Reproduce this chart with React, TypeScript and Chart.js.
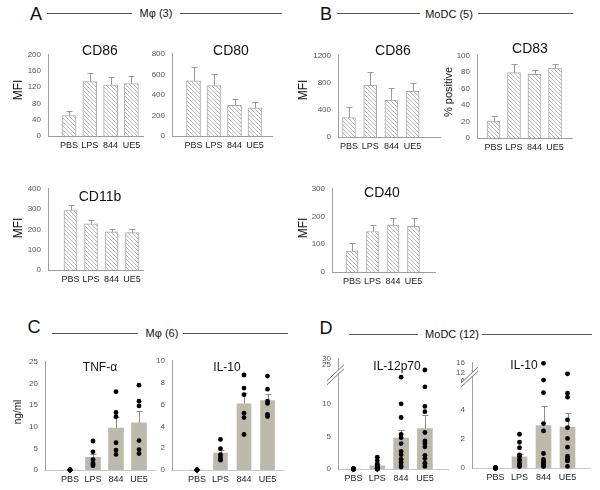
import React, { useEffect, useRef } from 'react';
import { Chart, registerables, LinearScale } from 'chart.js';

Chart.register(...registerables);

const FONT = '"Liberation Sans", Arial, sans-serif';

// ---------- data ----------
const CATS = ['PBS', 'LPS', '844', 'UE5'];

const A_CD86 = [50, 134, 126, 129];
const A_CD86_ERR = [12, 21, 19, 18];
const A_CD80 = [536, 490, 298, 273];
const A_CD80_ERR = [140, 115, 62, 62];
const B_CD86 = [286, 764, 544, 675];
const B_CD86_ERR = [150, 200, 173, 127];
const B_CD83 = [20.5, 79.5, 77.5, 85];
const B_CD83_ERR = [6.5, 10.5, 5, 5];
const A_CD11B = [293, 228, 188, 184];
const A_CD11B_ERR = [25, 18, 16, 20];
const B_CD40 = [75, 146, 169, 165];
const B_CD40_ERR = [29, 24, 26, 31];

const C_TNF = [0, 2.9, 9.7, 10.9];
const C_TNF_ERR = [0, 0.8, 2.5, 2.8];
const C_TNF_DOTS = [
  [0, 0, 0, 0, 0, 0],
  [6.7, 4.2, 2.4, 1.6, 1.3, 1.0],
  [18.1, 13.3, 12.3, 6.3, 4.6, 3.6],
  [19.6, 15.9, 14.8, 6.8, 4.7, 3.8],
];
const C_IL10 = [0, 1.54, 6.07, 6.36];
const C_IL10_ERR = [0, 0.3, 0.97, 0.6];
const C_IL10_DOTS = [
  [0, 0, 0, 0, 0, 0],
  [2.8, 1.95, 1.4, 1.2, 1.0, 0.9],
  [8.7, 7.5, 6.9, 5.2, 4.8, 3.25],
  [8.6, 7.4, 6.3, 6.1, 5.1, 4.9],
];
const D_IL12 = [0, 0.5, 4.73, 6.2];
const D_IL12_ERR = [0, 0.2, 1.2, 2.1];
const D_IL12_DOTS = [
  [0, 0, 0, 0, 0, 0, 0, 0, 0, 0, 0, 0],
  [1.8, 1.3, 0.8, 0.5, 0.4, 0.2, 0.1, 0, 0, 0, 0, 0],
  [17.5, 10.0, 7.9, 5.3, 4.8, 3.9, 2.7, 2.2, 1.5, 1.0, 0.5, 0.3],
  [22, 12.6, 9.6, 8.8, 5.6, 4.3, 3.9, 3.4, 2.1, 1.6, 0.9, 0.4],
];
const D_IL10 = [0, 0.78, 2.93, 2.82];
const D_IL10_ERR = [0, 0.22, 1.34, 1.0];
const D_IL10_DOTS = [
  [0, 0, 0, 0, 0, 0, 0, 0, 0, 0, 0, 0],
  [2.33, 1.78, 1.4, 0.9, 0.82, 0.6, 0.5, 0.3, 0.3, 0.2, 0.15, 0.1],
  [15.8, 6.8, 5.2, 3.07, 2.56, 1.0, 0.6, 0.45, 0.35, 0.25, 0.15, 0.1],
  [11.5, 5.17, 4.89, 3.33, 2.78, 2.04, 1.44, 0.82, 0.67, 0.5, 0.5, 0.11],
];

const IL12_TICKS = [0, 5, 10, 25, 30];
const IL12_BREAK_VALUES = [0, 13, 25, 30];
const IL12_BREAK_FRACS = [0, 0.769, 0.9414, 1];
const DIL10_TICKS = [0, 2, 4, 6, 12, 16];
const DIL10_BREAK_VALUES = [0, 6, 12, 16];
const DIL10_BREAK_FRACS = [0, 0.8257, 0.9018, 1];

// ---------- broken axis scales ----------
function interp(v: number, xs: number[], ys: number[]) {
  const n = xs.length;
  let i = 0;
  if (v <= xs[0]) i = 0;
  else if (v >= xs[n - 1]) i = n - 2;
  else {
    while (i < n - 2 && v > xs[i + 1]) i++;
  }
  const t = (v - xs[i]) / (xs[i + 1] - xs[i]);
  return ys[i] + t * (ys[i + 1] - ys[i]);
}

function makeBrokenScale(scaleId: string, vals: number[], fracs: number[]) {
  class Broken extends (LinearScale as any) {
    static id = scaleId;
    static defaults = {};
    getPixelForValue(value: number) {
      return (this as any).getPixelForDecimal(interp(value, vals, fracs));
    }
    getValueForPixel(pixel: number) {
      return interp((this as any).getDecimalForPixel(pixel), fracs, vals);
    }
  }
  return Broken;
}
Chart.register(makeBrokenScale('brokenIL12', IL12_BREAK_VALUES, IL12_BREAK_FRACS) as any);
Chart.register(makeBrokenScale('brokenDIL10', DIL10_BREAK_VALUES, DIL10_BREAK_FRACS) as any);

// ---------- panel layout ----------
type Spec = {
  L: number; R: number; T: number; B: number; c1: number; sp: number; bw: number;
  values: number[]; errs: number[]; dots?: number[][];
  max: number; step?: number; ticks?: number[]; scaleType?: string; brk?: [number, number];
  hatched: boolean;
};

const PANELS: Spec[] = [
  { L: 48, R: 143, T: 51, B: 136, c1: 69, sp: 20.8, bw: 14, values: A_CD86, errs: A_CD86_ERR, max: 200, step: 40, hatched: true },
  { L: 172, R: 272, T: 50, B: 136, c1: 193.5, sp: 20.5, bw: 14, values: A_CD80, errs: A_CD80_ERR, max: 800, step: 200, hatched: true },
  { L: 338, R: 440, T: 52, B: 137, c1: 349, sp: 21.2, bw: 13, values: B_CD86, errs: B_CD86_ERR, max: 1200, step: 400, hatched: true },
  { L: 477, R: 572, T: 52, B: 137.5, c1: 493.5, sp: 20.5, bw: 13, values: B_CD83, errs: B_CD83_ERR, max: 100, step: 20, hatched: true },
  { L: 48, R: 143, T: 185, B: 270, c1: 70.5, sp: 20.5, bw: 13, values: A_CD11B, errs: A_CD11B_ERR, max: 400, step: 100, hatched: true },
  { L: 332, R: 435, T: 185, B: 272, c1: 352, sp: 20.5, bw: 12, values: B_CD40, errs: B_CD40_ERR, max: 300, step: 100, hatched: true },
  { L: 45, R: 155, T: 357.7, B: 469.3, c1: 70, sp: 23, bw: 15, values: C_TNF, errs: C_TNF_ERR, dots: C_TNF_DOTS, max: 25, step: 5, hatched: false },
  { L: 172, R: 283, T: 356.7, B: 469.3, c1: 197, sp: 23.5, bw: 14, values: C_IL10, errs: C_IL10_ERR, dots: C_IL10_DOTS, max: 10, step: 2, hatched: false },
  { L: 338, R: 448, T: 355, B: 469.3, c1: 353.5, sp: 23.8, bw: 15, values: D_IL12, errs: D_IL12_ERR, dots: D_IL12_DOTS, max: 30, ticks: IL12_TICKS, scaleType: 'brokenIL12', brk: [13, 25], hatched: false },
  { L: 472, R: 590, T: 359.3, B: 468.3, c1: 495.5, sp: 24, bw: 15, values: D_IL10, errs: D_IL10_ERR, dots: D_IL10_DOTS, max: 16, ticks: DIL10_TICKS, scaleType: 'brokenDIL10', brk: [6, 12], hatched: false },
];

const YW = 40, PT = 8, PR = 6, XH = 22;

function makeHatch() {
  const s = 4;
  const c = document.createElement('canvas');
  c.width = s; c.height = s;
  const g = c.getContext('2d')!;
  g.fillStyle = '#fff';
  g.fillRect(0, 0, s, s);
  g.strokeStyle = '#b0b0b0';
  g.lineWidth = 0.9;
  g.beginPath();
  g.moveTo(-1, -1); g.lineTo(s + 1, s + 1);
  g.moveTo(-1, s - 1); g.lineTo(1, s + 1);
  g.moveTo(s - 1, -1); g.lineTo(s + 1, 1);
  g.stroke();
  return g.createPattern(c, 'repeat');
}

function buildConfig(p: Spec): any {
  const xmin = 1 - (p.c1 - p.L) / p.sp;
  const xmax = xmin + (p.R - p.L) / p.sp;
  const datasets: any[] = [
    {
      type: 'bar',
      data: p.values.map((v, i) => ({ x: i + 1, y: v })),
      backgroundColor: p.hatched ? makeHatch() : '#bdb9ab',
      borderColor: p.hatched ? '#a9a9a9' : '#bdb9ab',
      borderWidth: p.hatched ? 1 : 0,
      barThickness: p.bw,
      order: 2,
    },
  ];
  if (p.dots) {
    datasets.push({
      type: 'scatter',
      data: p.dots.flatMap((arr, i) => arr.map((v) => ({ x: i + 1, y: v }))),
      pointRadius: 2.4,
      pointBackgroundColor: '#000',
      pointBorderWidth: 0,
      clip: false,
      order: 0,
    });
  }
  const errPlugin = {
    id: 'errbars',
    afterDatasetDraw(chart: any, args: any) {
      if (args.index !== 0) return;
      const y = chart.scales.y;
      const ctx = chart.ctx;
      ctx.save();
      ctx.strokeStyle = p.hatched ? '#9a9a9a' : '#8a8a8a';
      ctx.lineWidth = 1;
      args.meta.data.forEach((el: any, i: number) => {
        const e = p.errs[i];
        if (!e) return;
        const top = Math.round(y.getPixelForValue(p.values[i] + e)) + 0.5;
        const x = Math.round(el.x) + 0.5;
        ctx.beginPath();
        ctx.moveTo(x, el.y);
        ctx.lineTo(x, top);
        ctx.moveTo(x - 3, top);
        ctx.lineTo(x + 3, top);
        ctx.stroke();
      });
      ctx.restore();
    },
  };
  const plugins: any[] = [errPlugin];
  if (p.brk) {
    const brk = p.brk;
    plugins.push({
      id: 'brk',
      afterDraw(chart: any) {
        const y = chart.scales.y;
        const x0 = chart.chartArea.left;
        const yc = (y.getPixelForValue(brk[0]) + y.getPixelForValue(brk[1])) / 2;
        const ctx = chart.ctx;
        const dxl = 11, dxr = 6, dy = 8, g = 2;
        ctx.save();
        ctx.fillStyle = '#fff';
        ctx.beginPath();
        ctx.moveTo(x0 - dxl, yc + dy - g);
        ctx.lineTo(x0 + dxr, yc - dy - g);
        ctx.lineTo(x0 + dxr, yc - dy + g);
        ctx.lineTo(x0 - dxl, yc + dy + g);
        ctx.closePath();
        ctx.fill();
        ctx.strokeStyle = '#666';
        ctx.lineWidth = 0.9;
        ctx.beginPath();
        ctx.moveTo(x0 - dxl, yc + dy - g);
        ctx.lineTo(x0 + dxr, yc - dy - g);
        ctx.moveTo(x0 - dxl, yc + dy + g);
        ctx.lineTo(x0 + dxr, yc - dy + g);
        ctx.stroke();
        ctx.restore();
      },
    });
  }
  const axisColor = p.hatched ? '#9c9c9c' : '#a0a0a0';
  const yScale: any = {
    type: p.scaleType || 'linear',
    min: 0,
    max: p.max,
    grid: { display: false, drawTicks: false, tickLength: 0 },
    border: { display: true, color: axisColor, width: 1 },
    ticks: {
      font: { family: FONT, size: 8 },
      color: '#555',
      padding: 7,
      stepSize: p.step,
      autoSkip: false,
      callback: (v: number) => String(v),
    },
    afterFit: (s: any) => { s.width = YW; },
  };
  if (p.ticks) {
    const tv = p.ticks;
    yScale.afterBuildTicks = (s: any) => { s.ticks = tv.map((v) => ({ value: v })); };
  }
  return {
    type: 'bar',
    data: { datasets },
    plugins,
    options: {
      responsive: false,
      animation: false,
      events: [],
      layout: { padding: { top: PT, right: PR, left: 0, bottom: 0 } },
      plugins: { legend: { display: false }, tooltip: { enabled: false }, title: { display: false } },
      scales: {
        x: {
          type: 'linear',
          offset: false,
          min: xmin,
          max: xmax,
          grid: { display: false, offset: false, drawTicks: false, tickLength: 0 },
          border: { display: true, color: p.hatched ? axisColor : '#c8c8c8', width: 1 },
          ticks: {
            font: { family: FONT, size: 9 },
            color: '#222',
            padding: 4,
            autoSkip: false,
            maxRotation: 0,
            callback: (v: number) => CATS[Math.round(v) - 1] ?? '',
          },
          afterBuildTicks: (s: any) => { s.ticks = CATS.map((_, i) => ({ value: i + 1 })); },
          afterFit: (s: any) => { s.height = XH; },
        },
        y: yScale,
      },
    },
  };
}

function Panel({ spec }: { spec: Spec }) {
  const ref = useRef<HTMLCanvasElement>(null);
  const w = Math.round(spec.R - spec.L + YW + PR);
  const h = Math.round(spec.B - spec.T + PT + XH);
  useEffect(() => {
    const chart = new Chart(ref.current as HTMLCanvasElement, buildConfig(spec));
    return () => chart.destroy();
  }, []);
  return (
    <canvas
      ref={ref}
      width={w}
      height={h}
      style={{ position: 'absolute', left: Math.round(spec.L - YW), top: Math.round(spec.T - PT), width: w, height: h }}
    />
  );
}

function Txt({ x, y, size, children, rot, color }: any) {
  return (
    <div
      style={{
        position: 'absolute', left: x, top: y, fontSize: size, fontFamily: FONT, color: color || '#111',
        whiteSpace: 'nowrap', lineHeight: 1,
        transform: `translate(-50%, -50%)${rot ? ' rotate(-90deg)' : ''}`,
      }}
    >
      {children}
    </div>
  );
}

function HLine({ x1, x2, y }: any) {
  return <div style={{ position: 'absolute', left: x1, top: y, width: x2 - x1, height: 0, borderTop: '1px solid #555' }} />;
}

export default function App() {
  return (
    <div style={{ position: 'absolute', left: 0, top: 0, width: 600, height: 490, background: '#fff', overflow: 'hidden' }}>
      {/* headers */}
      <Txt x={36} y={14} size={18}>A</Txt>
      <HLine x1={47} x2={132} y={13} />
      <Txt x={156} y={13} size={11}>Mφ (3)</Txt>
      <HLine x1={180} x2={282} y={13} />

      <Txt x={326} y={14} size={18}>B</Txt>
      <HLine x1={337} x2={420} y={13} />
      <Txt x={449} y={14} size={11}>MoDC (5)</Txt>
      <HLine x1={478} x2={573} y={13} />

      <Txt x={34} y={327} size={18}>C</Txt>
      <HLine x1={52} x2={138} y={333} />
      <Txt x={162} y={333} size={11}>Mφ (6)</Txt>
      <HLine x1={183} x2={288} y={333} />

      <Txt x={326} y={328} size={18}>D</Txt>
      <HLine x1={349} x2={418} y={334} />
      <Txt x={452} y={334} size={11}>MoDC (12)</Txt>
      <HLine x1={482} x2={592} y={334} />

      {PANELS.map((p, i) => <Panel key={i} spec={p} />)}

      {/* panel titles */}
      <Txt x={100} y={50} size={14}>CD86</Txt>
      <Txt x={231} y={50} size={14}>CD80</Txt>
      <Txt x={393} y={50} size={14}>CD86</Txt>
      <Txt x={530} y={48} size={14}>CD83</Txt>
      <Txt x={100} y={196} size={14}>CD11b</Txt>
      <Txt x={382} y={192} size={14}>CD40</Txt>
      <Txt x={100} y={367} size={12}>TNF-α</Txt>
      <Txt x={227} y={367} size={12}>IL-10</Txt>
      <Txt x={397} y={366} size={12}>IL-12p70</Txt>
      <Txt x={524} y={365} size={12}>IL-10</Txt>

      {/* axis titles */}
      <Txt x={18} y={90} size={12} rot>MFI</Txt>
      <Txt x={303} y={90} size={12} rot>MFI</Txt>
      <Txt x={448} y={92} size={11} rot>% positive</Txt>
      <Txt x={18} y={228} size={12} rot>MFI</Txt>
      <Txt x={303} y={228} size={12} rot>MFI</Txt>
      <Txt x={18} y={412} size={10} rot>ng/ml</Txt>
    </div>
  );
}
